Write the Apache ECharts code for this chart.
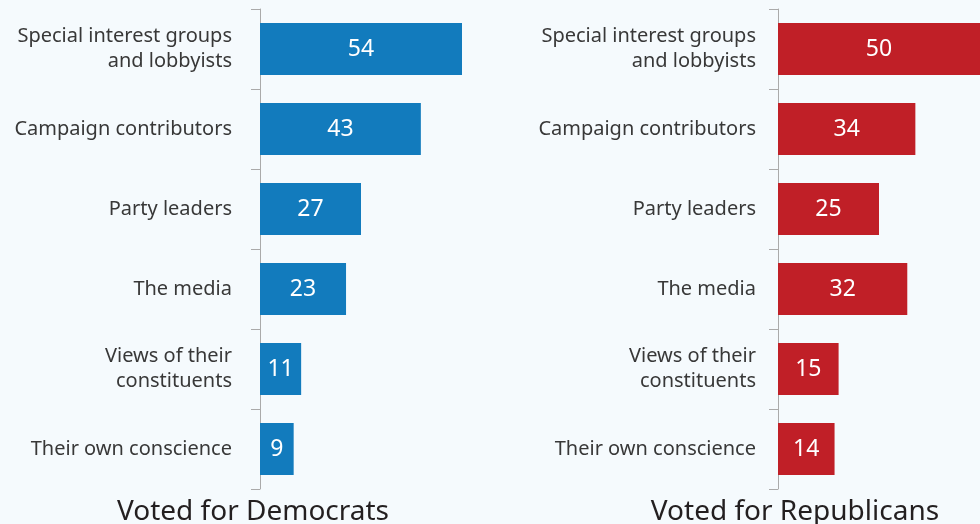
<!DOCTYPE html>
<html>
<head>
<meta charset="utf-8">
<script src="https://cdn.jsdelivr.net/npm/echarts@6/dist/echarts.min.js"></script>
<style>
	html, body { margin: 0; padding: 0; background: #f5fafd; }
	#main { width: 980px; height: 524px; }
</style>
</head>
<body>
<div id="main"></div>
<script>
var categories = [
	"Special interest groups\nand lobbyists",
	"Campaign contributors",
	"Party leaders",
	"The media",
	"Views of their\nconstituents",
	"Their own conscience"
];
var demValues = [54, 43, 27, 23, 11, 9];
var repValues = [50, 34, 25, 32, 15, 14];
var panelTitles = ["Voted for Democrats", "Voted for Republicans"];

var font = "Noto Sans";

function catAxis(idx, margin) {
	return {
		type: "category",
		gridIndex: idx,
		data: categories,
		inverse: true,
		axisLine: { show: true, lineStyle: { color: "#aaaaaa", width: 1 } },
		axisTick: { show: true, length: 9, lineStyle: { color: "#aaaaaa" } },
		axisLabel: {
			color: "#383838",
			fontFamily: font,
			fontSize: 20,
			lineHeight: 25,
			margin: margin,
			align: "right"
		}
	};
}

function valAxis(idx, max) {
	return {
		type: "value",
		gridIndex: idx,
		min: 0,
		max: max,
		show: false
	};
}

function barSeries(idx, values, color) {
	return {
		type: "bar",
		xAxisIndex: idx,
		yAxisIndex: idx,
		data: values,
		barCategoryGap: "35%",
		itemStyle: { color: color },
		label: {
			show: true,
			position: "inside",
			color: "#ffffff",
			fontFamily: font,
			fontSize: 23
		},
		silent: true
	};
}

var chart = echarts.init(document.getElementById("main"));
chart.setOption({
	backgroundColor: "#f5fafd",
	animation: false,
	title: [{
		text: panelTitles[0],
		left: 253,
		textAlign: "center",
		top: 498,
		padding: 0,
		textStyle: { fontFamily: font, fontSize: 28, fontWeight: "normal", color: "#231f20" }
	}, {
		text: panelTitles[1],
		left: 795,
		textAlign: "center",
		top: 498,
		padding: 0,
		textStyle: { fontFamily: font, fontSize: 28, fontWeight: "normal", color: "#231f20" }
	}],
	grid: [
		{ left: 260, top: 9, width: 202, bottom: 35 },
		{ left: 778, top: 9, width: 206, bottom: 35 }
	],
	xAxis: [valAxis(0, 54), valAxis(1, 50)],
	yAxis: [catAxis(0, 28), catAxis(1, 22)],
	series: [
		barSeries(0, demValues, "#127bbd"),
		barSeries(1, repValues, "#c01f27")
	]
});
</script>
</body>
</html>
